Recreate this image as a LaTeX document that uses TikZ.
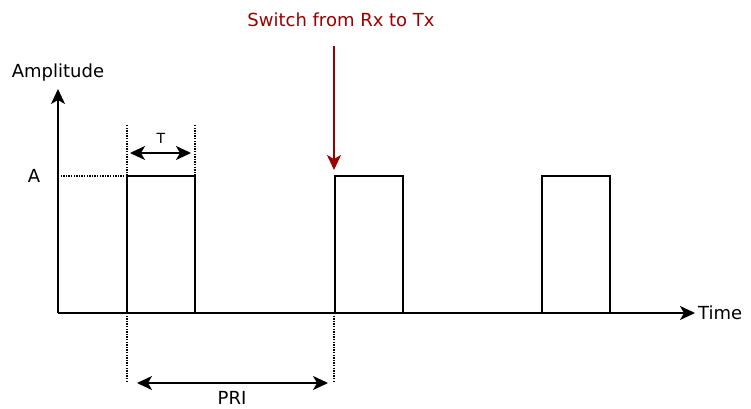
\documentclass[tikz,border=0pt]{standalone}
\usepackage{fontspec}
\setmainfont{DejaVu Sans}
\usetikzlibrary{arrows.meta}
\definecolor{darkred}{HTML}{990000}
\begin{document}
\begin{tikzpicture}[x=1pt,y=-1pt,
  line/.style={line width=1.7pt},
  dots/.style={line width=1.3pt,dash pattern=on 1.3pt off 1.3pt},
  tip/.tip={Stealth[length=15pt,width=14pt,inset=4pt]},
  arr/.style={-tip},
  darr/.style={tip-tip},
  lbl/.style={font=\fontsize{18}{20}\selectfont,inner sep=0pt}]
\useasboundingbox (0,0) rectangle (751,408);
% axes
\coordinate (O) at (58,313);
\coordinate (ytip) at (58,89);
\coordinate (xtip) at (695,313);
\draw[line,arr] (O) -- (ytip);
\draw[line,arr] (O) -- (xtip);
\node[lbl] (amp) at (58,73) {Amplitude};
\node[lbl,anchor=west] (time) at (698,313) {Time};
% pulses
\draw[line] (127,313) -- (127,176) -- (195,176) -- (195,313);
\draw[line] (335,313) -- (335,176) -- (403,176) -- (403,313);
\draw[line] (542,313) -- (542,176) -- (610,176) -- (610,313);
% A level
\node[lbl] (A) at (34,176) {A};
\draw[dots] (58,176) -- (127,176);
% T markers
\draw[dots] (127,125) -- (127,176);
\draw[dots] (195,125) -- (195,176);
\coordinate (t1) at (130,153);
\coordinate (t2) at (191,153);
\draw[line,darr] (t1) -- (t2);
\node[font=\fontsize{14}{16}\selectfont,inner sep=0pt] (T) at (161,138) {T};
% PRI markers
\draw[dots] (127,313) -- (127,383);
\draw[dots] (334,313) -- (334,383);
\coordinate (p1) at (137,383);
\coordinate (p2) at (328,383);
\draw[line,darr] (p1) -- (p2);
\node[lbl] (PRI) at (232,398) {PRI};
% switch
\node[lbl,text=darkred] (sw) at (341,20) {Switch from Rx to Tx};
\coordinate (s1) at (334,46);
\coordinate (s2) at (334,170);
\draw[line,darkred,arr] (s1) -- (s2);
\end{tikzpicture}
\end{document}
